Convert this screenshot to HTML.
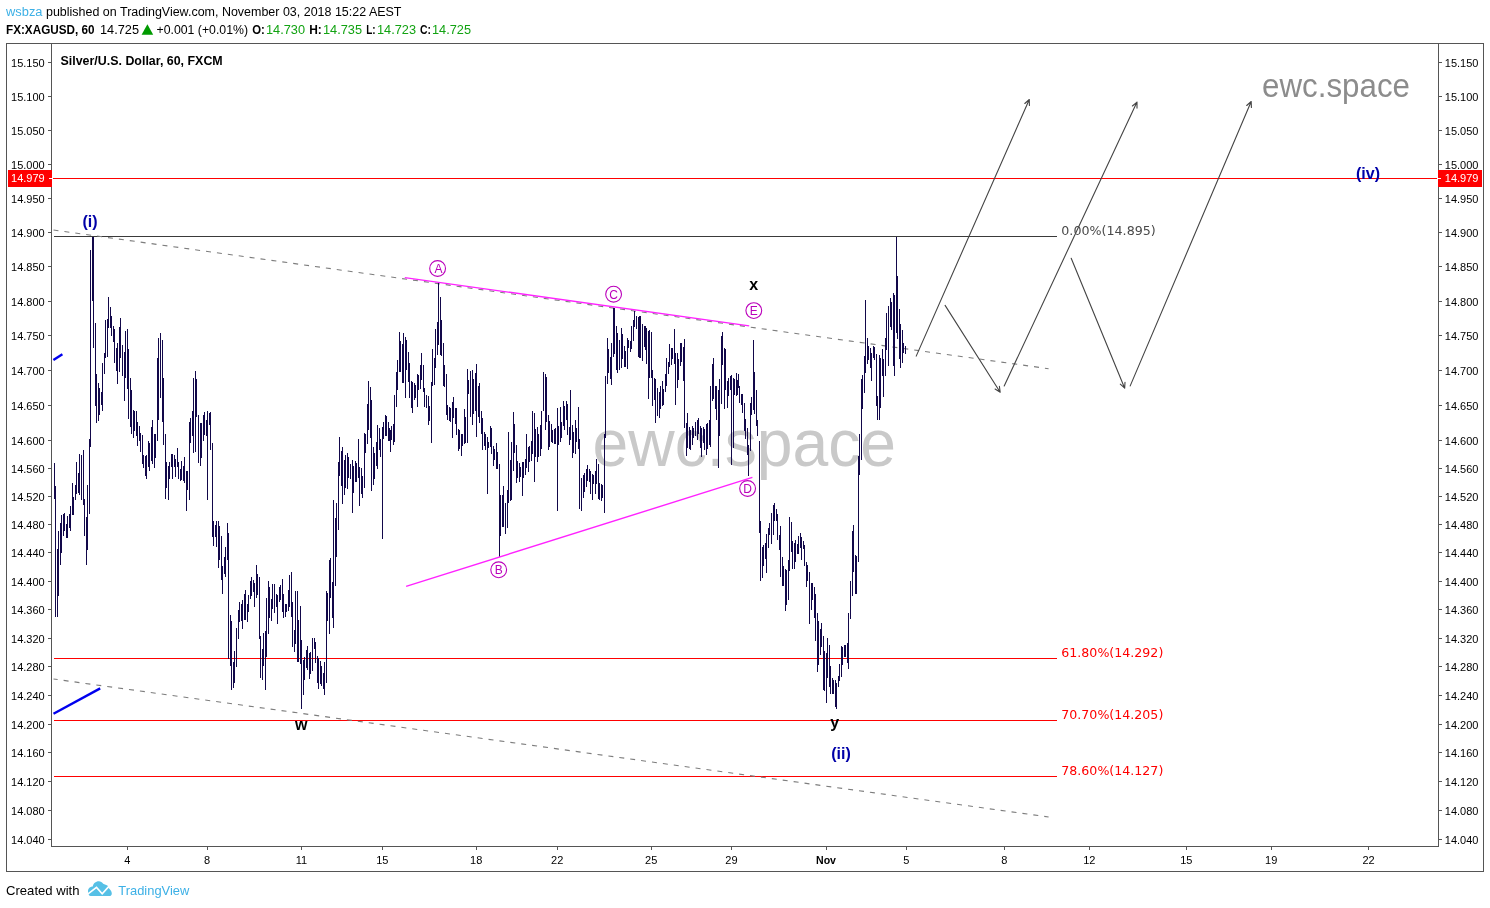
<!DOCTYPE html>
<html><head><meta charset="utf-8"><title>XAGUSD chart</title>
<style>
html,body{margin:0;padding:0;background:#fff;}
body{width:1490px;height:908px;position:relative;overflow:hidden;font-family:"Liberation Sans",Arial,sans-serif;}
svg{display:block}
svg text{font-family:"Liberation Sans",Arial,sans-serif;}
svg g.v text{font-family:"DejaVu Sans","Liberation Sans",sans-serif;}
</style></head><body>
<svg width="1490" height="908" viewBox="0 0 1490 908" style="position:absolute;left:0;top:0">
<g id="wm"><text x="592.6" y="465.5" font-size="66" fill="#c9c9c9" textLength="303.5" lengthAdjust="spacingAndGlyphs">ewc.space</text></g>
<text x="301.2" y="730" fill="#000" font-weight="bold" font-size="16" text-anchor="middle">w</text>
<g shape-rendering="crispEdges"><path d="M54 236.5H1056.6" stroke="#3a3a3a" stroke-width="1"/><path d="M54 658.5H1056.6M54 720.5H1056.6M54 776.5H1056.6" stroke="#ff0000" stroke-width="1"/></g>
<g stroke="#7d7d7d" stroke-width="1.1" stroke-dasharray="5 6" fill="none">
<path d="M53.5 230L1048.6 368.7"/>
<path d="M53.5 679L1048.6 817" stroke-dashoffset="0.8"/>
</g>
<path id="bars" d="M54.5 463V499M55.5 486V617M57.5 549V617M58.5 531V596M60.5 523V565M61.5 515V553M63.5 514V536M64.5 513V531M66.5 524V538M67.5 516V538M69.5 514V528M70.5 506V531M72.5 483V515M73.5 497V515M75.5 485V500M76.5 462V494M78.5 473V493M79.5 454V495M81.5 455V500M83.5 450V505M84.5 499V536M86.5 517V565M87.5 485V550M89.5 439V514M90.5 250V447M92.5 237V301M93.5 237V348M95.5 323V406M96.5 374V423M98.5 383V421M99.5 388V415M101.5 392V405M102.5 363V411M104.5 353V374M105.5 320V358M107.5 319V357M108.5 297V328M110.5 307V328M111.5 316V336M113.5 326V342M114.5 329V363M116.5 348V371M117.5 343V384M119.5 327V372M120.5 318V358M122.5 345V376M124.5 352V401M125.5 331V378M127.5 329V389M128.5 349V419M130.5 378V427M131.5 390V434M133.5 410V438M134.5 411V431M136.5 411V436M137.5 422V446M139.5 426V441M140.5 433V452M142.5 435V464M143.5 455V468M145.5 456V476M146.5 455V479M148.5 441V467M149.5 443V471M151.5 427V461M152.5 420V464M154.5 434V468M155.5 434V458M157.5 358V441M158.5 338V420M160.5 333V398M162.5 340V422M163.5 378V445M165.5 434V499M166.5 462V488M168.5 466V500M169.5 462V479M171.5 454V467M172.5 454V479M174.5 455V467M175.5 459V477M177.5 448V467M178.5 462V479M180.5 469V481M181.5 461V480M183.5 466V481M184.5 457V483M186.5 471V511M187.5 471V490M189.5 422V500M190.5 418V443M192.5 411V436M193.5 378V453M195.5 371V452M196.5 379V417M198.5 415V463M200.5 423V466M201.5 423V458M203.5 415V441M204.5 412V435M206.5 420V436M207.5 411V500M209.5 413V425M210.5 412V450M212.5 443V537M213.5 521V546M215.5 525V537M216.5 521V547M218.5 521V568M219.5 526V560M221.5 536V580M222.5 566V594M224.5 557V574M225.5 547V577M227.5 523V560M228.5 533V659M230.5 615V666M231.5 621V690M233.5 662V688M234.5 651V683M236.5 628V667M238.5 610V639M239.5 602V622M241.5 604V621M242.5 600V629M244.5 594V620M245.5 590V620M247.5 604V622M248.5 595V612M250.5 581V599M251.5 577V596M253.5 580V592M254.5 583V607M256.5 565V598M257.5 574V595M259.5 577V639M260.5 636V678M262.5 649V680M263.5 633V666M265.5 631V690M266.5 598V657M268.5 581V634M269.5 587V618M271.5 599V621M272.5 584V609M274.5 584V613M276.5 594V607M277.5 595V624M279.5 587V602M280.5 585V600M282.5 579V612M283.5 594V618M285.5 604V617M286.5 604V612M288.5 590V611M289.5 575V607M291.5 572V617M292.5 602V647M294.5 630V652M295.5 591V644M297.5 591V662M298.5 620V662M300.5 606V664M301.5 640V709M303.5 660V695M304.5 657V680M306.5 650V668M307.5 646V670M309.5 653V679M310.5 652V674M312.5 638V671M314.5 638V649M315.5 642V663M317.5 656V683M318.5 658V689M320.5 661V684M321.5 666V686M323.5 673V689M324.5 662V695M326.5 591V683M327.5 593V621M329.5 560V634M330.5 558V598M332.5 582V618M333.5 500V628M335.5 518V586M336.5 503V557M338.5 462V530M339.5 437V476M341.5 451V486M342.5 447V504M344.5 460V495M345.5 455V488M347.5 453V489M348.5 457V478M350.5 464V479M352.5 460V513M353.5 466V493M355.5 461V482M356.5 463V482M358.5 439V478M359.5 467V506M361.5 468V494M362.5 476V498M364.5 433V488M365.5 434V453M367.5 404V444M368.5 381V430M370.5 387V438M371.5 400V491M373.5 447V485M374.5 453V479M376.5 442V466M377.5 425V469M379.5 428V450M380.5 439V457M382.5 427V539M383.5 422V439M385.5 415V436M386.5 416V436M388.5 422V441M389.5 428V441M390.5 430V452M391.5 426V440M393.5 424V445M394.5 395V442M396.5 372V407M397.5 360V390M399.5 332V372M400.5 341V372M402.5 344V383M403.5 333V383M405.5 337V398M406.5 340V370M408.5 352V382M409.5 363V398M411.5 381V408M412.5 382V413M414.5 383V400M415.5 385V398M417.5 374V407M418.5 375V390M420.5 365V389M421.5 353V380M423.5 365V392M424.5 388V407M426.5 395V408M428.5 396V425M429.5 406V421M431.5 382V443M432.5 349V386M434.5 358V385M435.5 329V368M437.5 322V355M438.5 282V345M440.5 297V355M441.5 320V356M443.5 343V386M444.5 365V387M446.5 374V415M447.5 405V420M449.5 407V421M450.5 408V422M452.5 402V438M453.5 397V418M455.5 408V424M456.5 408V435M458.5 429V451M459.5 430V449M461.5 434V456M462.5 434V446M464.5 409V444M465.5 417V443M467.5 369V443M468.5 380V394M470.5 371V417M472.5 370V425M473.5 379V414M475.5 373V411M476.5 364V437M478.5 386V417M479.5 383V423M481.5 411V434M482.5 418V450M484.5 432V446M485.5 434V450M487.5 437V494M488.5 442V448M490.5 426V447M491.5 428V454M493.5 446V466M494.5 449V460M496.5 443V469M497.5 452V469M499.5 464V557M500.5 495V536M502.5 495V527M503.5 486V527M505.5 503V534M507.5 490V528M508.5 432V503M510.5 460V501M511.5 442V500M513.5 412V471M514.5 424V453M516.5 445V483M517.5 461V478M519.5 463V482M520.5 467V477M522.5 462V496M523.5 462V478M525.5 459V475M526.5 434V468M528.5 447V472M529.5 446V462M531.5 441V461M532.5 411V454M534.5 413V482M535.5 429V457M537.5 427V462M538.5 434V457M540.5 425V456M541.5 411V449M543.5 372V411M545.5 374V430M546.5 377V422M548.5 415V450M549.5 421V447M551.5 424V442M552.5 430V443M554.5 429V444M555.5 428V444M557.5 408V511M558.5 426V445M560.5 407V442M561.5 422V438M563.5 401V426M564.5 406V430M566.5 401V420M567.5 404V435M569.5 427V445M570.5 390V440M572.5 425V458M573.5 432V453M575.5 420V454M576.5 428V442M578.5 407V449M579.5 439V509M581.5 478V511M583.5 475V498M584.5 473V492M586.5 469V487M587.5 465V481M589.5 469V482M590.5 471V494M592.5 474V500M593.5 475V484M595.5 471V494M596.5 459V484M598.5 464V499M599.5 483V500M601.5 484V501M602.5 485V498M604.5 434V513M605.5 376V438M607.5 338V384M608.5 349V373M610.5 357V379M611.5 343V385M613.5 308V357M614.5 308V354M616.5 326V370M617.5 333V373M619.5 340V370M621.5 328V368M622.5 334V359M624.5 346V367M625.5 351V367M627.5 338V369M628.5 340V348M630.5 341V352M631.5 326V349M633.5 320V341M634.5 311V327M636.5 316V329M638.5 317V357M639.5 316V358M640.5 316V358M642.5 324V361M644.5 326V347M645.5 326V350M646.5 328V364M648.5 331V399M649.5 330V378M651.5 332V378M652.5 370V406M654.5 378V400M655.5 379V423M657.5 388V416M659.5 392V418M660.5 386V409M662.5 381V406M663.5 389V405M665.5 374V392M666.5 358V386M668.5 362V374M669.5 344V367M671.5 348V365M672.5 348V359M674.5 329V364M675.5 353V405M677.5 353V388M678.5 359V380M680.5 343V366M681.5 343V362M683.5 347V381M684.5 339V428M686.5 423V456M687.5 413V448M689.5 427V449M690.5 430V450M692.5 426V445M693.5 428V438M695.5 422V436M697.5 420V440M698.5 418V434M700.5 426V448M701.5 428V457M703.5 427V443M704.5 429V450M706.5 424V455M707.5 423V449M709.5 420V445M710.5 386V447M712.5 364V401M713.5 358V399M715.5 386V409M716.5 386V420M718.5 390V468M719.5 379V436M721.5 336V404M722.5 332V365M724.5 348V409M725.5 349V390M727.5 381V408M728.5 378V396M730.5 376V390M731.5 375V465M733.5 378V448M734.5 379V395M736.5 373V396M737.5 380V395M738.5 374V388M739.5 386V403M741.5 394V405M742.5 394V413M744.5 403V431M745.5 419V439M747.5 428V455M748.5 445V476M750.5 403V451M751.5 397V415M753.5 340V410M754.5 372V414M756.5 390V426M757.5 420V436M759.5 441V533M760.5 521V581M762.5 547V578M763.5 545V566M765.5 543V559M766.5 534V573M768.5 528V548M769.5 523V535M771.5 513V544M773.5 505V535M774.5 503V521M776.5 509V521M777.5 514V540M779.5 535V550M780.5 526V577M782.5 557V586M783.5 566V586M785.5 569V611M786.5 570V605M788.5 560V600M789.5 517V571M791.5 522V552M792.5 541V569M794.5 543V569M795.5 540V562M797.5 544V554M798.5 536V554M800.5 533V548M801.5 537V560M803.5 541V549M804.5 545V566M806.5 562V587M807.5 565V581M809.5 572V624M811.5 583V610M812.5 583V600M814.5 587V618M815.5 594V641M817.5 613V672M818.5 621V665M820.5 629V655M821.5 623V647M823.5 636V690M824.5 651V691M826.5 653V703M827.5 638V678M829.5 645V687M830.5 666V694M832.5 678V694M833.5 680V694M835.5 680V707M836.5 683V709M838.5 676V687M839.5 664V681M841.5 646V677M842.5 647V665M844.5 645V657M845.5 645V657M847.5 643V663M848.5 613V669M850.5 581V619M852.5 531V596M853.5 525V572M855.5 555V594M856.5 556V594M858.5 456V562M859.5 434V475M861.5 379V460M862.5 375V409M864.5 356V393M865.5 300V373M867.5 338V364M868.5 346V360M870.5 348V368M871.5 353V381M873.5 346V358M874.5 347V360M876.5 354V406M877.5 396V420M879.5 355V420M880.5 358V408M882.5 349V376M883.5 359V397M885.5 338V376M886.5 313V350M888.5 306V366M890.5 298V327M891.5 302V330M893.5 293V366M894.5 295V376M896.5 237V333M897.5 276V339M899.5 309V359M900.5 324V368M902.5 330V363M903.5 343V353M905.5 346V354" stroke="#12084a" stroke-width="1" fill="none" shape-rendering="crispEdges"/>
<g fill="none" stroke="#555" stroke-width="1" shape-rendering="crispEdges">
<path d="M6.5 43.5H1483.5V871.5H6.5Z"/>
<path d="M51.5 43.5V846.5H1438.5V43.5"/>
<path d="M48.0 62.5H51.5M1438.5 62.5H1442.0M48.0 96.5H51.5M1438.5 96.5H1442.0M48.0 130.5H51.5M1438.5 130.5H1442.0M48.0 164.5H51.5M1438.5 164.5H1442.0M48.0 198.5H51.5M1438.5 198.5H1442.0M48.0 232.5H51.5M1438.5 232.5H1442.0M48.0 266.5H51.5M1438.5 266.5H1442.0M48.0 301.5H51.5M1438.5 301.5H1442.0M48.0 335.5H51.5M1438.5 335.5H1442.0M48.0 370.5H51.5M1438.5 370.5H1442.0M48.0 405.5H51.5M1438.5 405.5H1442.0M48.0 440.5H51.5M1438.5 440.5H1442.0M48.0 468.5H51.5M1438.5 468.5H1442.0M48.0 496.5H51.5M1438.5 496.5H1442.0M48.0 524.5H51.5M1438.5 524.5H1442.0M48.0 552.5H51.5M1438.5 552.5H1442.0M48.0 581.5H51.5M1438.5 581.5H1442.0M48.0 609.5H51.5M1438.5 609.5H1442.0M48.0 638.5H51.5M1438.5 638.5H1442.0M48.0 666.5H51.5M1438.5 666.5H1442.0M48.0 695.5H51.5M1438.5 695.5H1442.0M48.0 724.5H51.5M1438.5 724.5H1442.0M48.0 752.5H51.5M1438.5 752.5H1442.0M48.0 781.5H51.5M1438.5 781.5H1442.0M48.0 810.5H51.5M1438.5 810.5H1442.0M48.0 839.5H51.5M1438.5 839.5H1442.0M127.5 846.5V850.0M207.5 846.5V850.0M301.5 846.5V850.0M382.5 846.5V850.0M476.5 846.5V850.0M557.5 846.5V850.0M651.5 846.5V850.0M731.5 846.5V850.0M826.5 846.5V850.0M906.5 846.5V850.0M1004.5 846.5V850.0M1089.5 846.5V850.0M1186.5 846.5V850.0M1271.5 846.5V850.0M1368.5 846.5V850.0"/>
</g>
<g font-size="11" fill="#000">
<text x="44.7" y="66.9" text-anchor="end">15.150</text>
<text x="1444.8" y="66.9">15.150</text>
<text x="44.7" y="100.9" text-anchor="end">15.100</text>
<text x="1444.8" y="100.9">15.100</text>
<text x="44.7" y="134.9" text-anchor="end">15.050</text>
<text x="1444.8" y="134.9">15.050</text>
<text x="44.7" y="168.9" text-anchor="end">15.000</text>
<text x="1444.8" y="168.9">15.000</text>
<text x="44.7" y="202.9" text-anchor="end">14.950</text>
<text x="1444.8" y="202.9">14.950</text>
<text x="44.7" y="236.9" text-anchor="end">14.900</text>
<text x="1444.8" y="236.9">14.900</text>
<text x="44.7" y="270.9" text-anchor="end">14.850</text>
<text x="1444.8" y="270.9">14.850</text>
<text x="44.7" y="305.9" text-anchor="end">14.800</text>
<text x="1444.8" y="305.9">14.800</text>
<text x="44.7" y="339.9" text-anchor="end">14.750</text>
<text x="1444.8" y="339.9">14.750</text>
<text x="44.7" y="374.9" text-anchor="end">14.700</text>
<text x="1444.8" y="374.9">14.700</text>
<text x="44.7" y="409.9" text-anchor="end">14.650</text>
<text x="1444.8" y="409.9">14.650</text>
<text x="44.7" y="444.9" text-anchor="end">14.600</text>
<text x="1444.8" y="444.9">14.600</text>
<text x="44.7" y="472.9" text-anchor="end">14.560</text>
<text x="1444.8" y="472.9">14.560</text>
<text x="44.7" y="500.9" text-anchor="end">14.520</text>
<text x="1444.8" y="500.9">14.520</text>
<text x="44.7" y="528.9" text-anchor="end">14.480</text>
<text x="1444.8" y="528.9">14.480</text>
<text x="44.7" y="556.9" text-anchor="end">14.440</text>
<text x="1444.8" y="556.9">14.440</text>
<text x="44.7" y="585.9" text-anchor="end">14.400</text>
<text x="1444.8" y="585.9">14.400</text>
<text x="44.7" y="613.9" text-anchor="end">14.360</text>
<text x="1444.8" y="613.9">14.360</text>
<text x="44.7" y="642.9" text-anchor="end">14.320</text>
<text x="1444.8" y="642.9">14.320</text>
<text x="44.7" y="670.9" text-anchor="end">14.280</text>
<text x="1444.8" y="670.9">14.280</text>
<text x="44.7" y="699.9" text-anchor="end">14.240</text>
<text x="1444.8" y="699.9">14.240</text>
<text x="44.7" y="728.9" text-anchor="end">14.200</text>
<text x="1444.8" y="728.9">14.200</text>
<text x="44.7" y="756.9" text-anchor="end">14.160</text>
<text x="1444.8" y="756.9">14.160</text>
<text x="44.7" y="785.9" text-anchor="end">14.120</text>
<text x="1444.8" y="785.9">14.120</text>
<text x="44.7" y="814.9" text-anchor="end">14.080</text>
<text x="1444.8" y="814.9">14.080</text>
<text x="44.7" y="843.9" text-anchor="end">14.040</text>
<text x="1444.8" y="843.9">14.040</text>
<text x="127.2" y="864" text-anchor="middle">4</text>
<text x="207.1" y="864" text-anchor="middle">8</text>
<text x="301.4" y="864" text-anchor="middle">11</text>
<text x="382.3" y="864" text-anchor="middle">15</text>
<text x="476.2" y="864" text-anchor="middle">18</text>
<text x="557.2" y="864" text-anchor="middle">22</text>
<text x="651.2" y="864" text-anchor="middle">25</text>
<text x="731.4" y="864" text-anchor="middle">29</text>
<text x="826.0" y="864" text-anchor="middle" font-weight="bold" textLength="20" lengthAdjust="spacingAndGlyphs">Nov</text>
<text x="906.2" y="864" text-anchor="middle">5</text>
<text x="1004.3" y="864" text-anchor="middle">8</text>
<text x="1089.3" y="864" text-anchor="middle">12</text>
<text x="1186.3" y="864" text-anchor="middle">15</text>
<text x="1271.2" y="864" text-anchor="middle">19</text>
<text x="1368.5" y="864" text-anchor="middle">22</text>
</g>
<g shape-rendering="crispEdges">
<path d="M53 178.5H1437" stroke="#ff0000" stroke-width="1"/>
<rect x="8" y="170" width="44" height="17" fill="#ff0000"/><rect x="1438" y="170" width="44" height="17" fill="#ff0000"/>
<path d="M49 178.5H52M1438 178.5H1441" stroke="#fff" stroke-width="1"/>
</g>
<g font-size="11" fill="#fff"><text x="44.7" y="182.4" text-anchor="end">14.979</text><text x="1444.8" y="182.4">14.979</text></g>
<g stroke="#ff22ff" stroke-width="1.4" fill="none"><path d="M404.8 277.6L749.2 325.9"/><path d="M406.1 586.4L752.4 477.4"/></g>
<g stroke="#0000ee" stroke-width="2.4" fill="none" stroke-linecap="butt"><path d="M53.4 359.9L62.4 354.2"/><path d="M53.5 713.8L100.2 688.4"/></g>
<g stroke="#444" stroke-width="1.1" fill="none" stroke-linecap="round">
<path d="M916.2 356.1L1029.3 99.5M1029.3 99.5L1024.8 103.5M1029.3 99.5L1029.4 105.5"/>
<path d="M945.1 305.4L1000.2 392.2M1000.2 392.2L999.4 386.3M1000.2 392.2L995.1 389.0"/>
<path d="M1004.2 385.9L1137.0 102.1M1137.0 102.1L1132.4 106.0M1137.0 102.1L1137.0 108.1"/>
<path d="M1071.2 258.2L1124.7 388.2M1124.7 388.2L1125.0 382.2M1124.7 388.2L1120.3 384.1"/>
<path d="M1130.2 385.9L1251.2 101.5M1251.2 101.5L1246.7 105.5M1251.2 101.5L1251.4 107.5"/>
</g>
<g class="v" font-size="12">
<text x="1061.3" y="235" fill="#4a4a4a" textLength="94.5" lengthAdjust="spacingAndGlyphs">0.00%(14.895)</text>
<text x="1061.3" y="657" fill="#ff0000" textLength="102" lengthAdjust="spacingAndGlyphs">61.80%(14.292)</text>
<text x="1061.3" y="719" fill="#ff0000" textLength="102" lengthAdjust="spacingAndGlyphs">70.70%(14.205)</text>
<text x="1061.3" y="775" fill="#ff0000" textLength="102" lengthAdjust="spacingAndGlyphs">78.60%(14.127)</text>
</g>
<g font-weight="bold" font-size="16" text-anchor="middle">
<text x="90" y="226.7" fill="#0000a8">(i)</text>
<text x="841" y="758.7" fill="#0000a8">(ii)</text>
<text x="1368" y="178.8" fill="#0000a8">(iv)</text>
<text x="753.8" y="290" fill="#000">x</text>
<text x="834.7" y="728" fill="#000">y</text>
</g>
<g font-size="12" text-anchor="middle" fill="#bb00bb">
<circle cx="437.6" cy="268.5" r="7.9" fill="none" stroke="#bb00bb" stroke-width="1.1"/><text x="438.4" y="272.8">A</text>
<circle cx="498.7" cy="569.8" r="7.9" fill="none" stroke="#bb00bb" stroke-width="1.1"/><text x="498.7" y="574.1">B</text>
<circle cx="613.6" cy="294.2" r="7.9" fill="none" stroke="#bb00bb" stroke-width="1.1"/><text x="613.6" y="298.5">C</text>
<circle cx="747.6" cy="488.5" r="7.9" fill="none" stroke="#bb00bb" stroke-width="1.1"/><text x="747.6" y="492.8">D</text>
<circle cx="753.8" cy="310.6" r="7.9" fill="none" stroke="#bb00bb" stroke-width="1.1"/><text x="753.8" y="314.9">E</text>
</g>
<text x="1262" y="97" font-size="34" fill="#8c8c8c" textLength="148" lengthAdjust="spacingAndGlyphs">ewc.space</text>
<text x="60.5" y="65" font-size="13" font-weight="bold" fill="#000" textLength="162.2" lengthAdjust="spacingAndGlyphs">Silver/U.S. Dollar, 60, FXCM</text>
<g id="logo"><path d="M90.8 896.1H109.3C110.9 896.1 111.9 894.8 111.8 893.2C111.7 891.2 110.3 889.6 108.6 888L108 886C106.5 884.9 104.6 884.3 103.2 883.8C102.2 882.3 100.6 881.3 98.8 881.3C95.7 881.3 93.1 883.6 92.8 886.6C90.2 886.7 88 888.6 88 891.2C88 893.9 89 896.1 90.8 896.1Z" fill="#56c0e6"/><path d="M87.4 894.4L96.5 887.4L102.2 893.8L109.8 885.4" fill="none" stroke="#fff" stroke-width="1.6" stroke-linejoin="miter"/></g>
<g id="hdr"><text x="6" y="15.6" font-size="12.5" fill="#3cb0e6" textLength="36.5" lengthAdjust="spacingAndGlyphs">wsbza</text>
<text x="46" y="15.6" font-size="12.5" fill="#000" textLength="355.5" lengthAdjust="spacingAndGlyphs">published on TradingView.com, November 03, 2018 15:22 AEST</text>
<text x="6" y="33.6" font-size="12.5" fill="#000" font-weight="bold" textLength="88.5" lengthAdjust="spacingAndGlyphs">FX:XAGUSD, 60</text>
<text x="100" y="33.6" font-size="12.5" fill="#000" textLength="39" lengthAdjust="spacingAndGlyphs">14.725</text>
<path d="M141.6 34.8L147.4 24.2L153.2 34.8Z" fill="#009a00"/>
<text x="156.5" y="33.6" font-size="12.5" fill="#000" textLength="91.5" lengthAdjust="spacingAndGlyphs">+0.001 (+0.01%)</text>
<text x="252.3" y="33.6" font-size="12.5" fill="#000" font-weight="bold" textLength="12.6" lengthAdjust="spacingAndGlyphs">O:</text>
<text x="266" y="33.6" font-size="12.5" fill="#12a312" textLength="39" lengthAdjust="spacingAndGlyphs">14.730</text>
<text x="309.2" y="33.6" font-size="12.5" fill="#000" font-weight="bold" textLength="12.6" lengthAdjust="spacingAndGlyphs">H:</text>
<text x="323" y="33.6" font-size="12.5" fill="#12a312" textLength="39" lengthAdjust="spacingAndGlyphs">14.735</text>
<text x="366.2" y="33.6" font-size="12.5" fill="#000" font-weight="bold" textLength="9.4" lengthAdjust="spacingAndGlyphs">L:</text>
<text x="377" y="33.6" font-size="12.5" fill="#12a312" textLength="39" lengthAdjust="spacingAndGlyphs">14.723</text>
<text x="420" y="33.6" font-size="12.5" fill="#000" font-weight="bold" textLength="11" lengthAdjust="spacingAndGlyphs">C:</text>
<text x="432" y="33.6" font-size="12.5" fill="#12a312" textLength="39" lengthAdjust="spacingAndGlyphs">14.725</text>
<text x="6" y="894.6" font-size="13" fill="#000" textLength="73.5" lengthAdjust="spacingAndGlyphs">Created with</text>
<text x="118.3" y="894.6" font-size="13" fill="#3cb0e6" textLength="71" lengthAdjust="spacingAndGlyphs">TradingView</text></g>
</svg>
</body></html>
